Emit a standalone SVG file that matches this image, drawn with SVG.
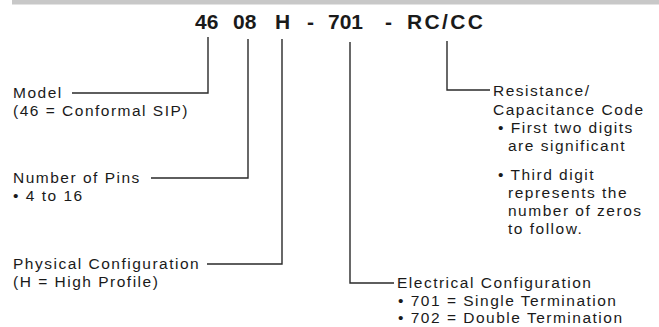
<svg xmlns="http://www.w3.org/2000/svg" width="659" height="327" viewBox="0 0 659 327">
<style>
.t{font-family:"Liberation Sans",Arial,sans-serif;font-size:15.5px;letter-spacing:1.5px;fill:#1a1a1a}
.h{font-family:"Liberation Sans",Arial,sans-serif;font-size:21px;font-weight:bold;fill:#1a1a1a}
.c{fill:none;stroke:#2a2a2a;stroke-width:1.4}
</style>
<rect x="12" y="0" width="647" height="4.5" fill="#c8c8c8"/>
<g id="heading">
<text class="h" x="195" y="29">46</text>
<text class="h" x="233" y="29">08</text>
<text class="h" x="275" y="29">H</text>
<text class="h" x="307" y="29">-</text>
<text class="h" x="328" y="29">701</text>
<text class="h" x="385" y="29">-</text>
<text class="h" x="407" y="29" textLength="76">RC/CC</text>
</g>
<g id="connectors">
<polyline class="c" points="208,37 208,93 72,93"/>
<polyline class="c" points="248,39 248,178 151,178"/>
<polyline class="c" points="282,39 282,264 207,264"/>
<polyline class="c" points="350,42 350,283 394,283"/>
<polyline class="c" points="447,41 447,90 490,90"/>
</g>
<g id="model">
<text class="t" x="13" y="98">Model</text>
<text class="t" x="13" y="116">(46 = Conformal SIP)</text>
</g>
<g id="pins">
<text class="t" x="13" y="183">Number of Pins</text>
<text class="t" x="13" y="201">• 4 to 16</text>
</g>
<g id="physical">
<text class="t" x="13" y="269">Physical Configuration</text>
<text class="t" x="13" y="287">(H = High Profile)</text>
</g>
<g id="electrical">
<text class="t" x="397" y="288">Electrical Configuration</text>
<text class="t" x="398" y="306">• 701 = Single Termination</text>
<text class="t" x="398" y="323">• 702 = Double Termination</text>
</g>
<g id="rccc">
<text class="t" x="493" y="96">Resistance/</text>
<text class="t" x="493" y="115">Capacitance Code</text>
<text class="t" x="498" y="133">• First two digits</text>
<text class="t" x="508" y="151">are significant</text>
<text class="t" x="498" y="180">• Third digit</text>
<text class="t" x="508" y="198">represents the</text>
<text class="t" x="508" y="216">number of zeros</text>
<text class="t" x="508" y="234">to follow.</text>
</g>
</svg>
